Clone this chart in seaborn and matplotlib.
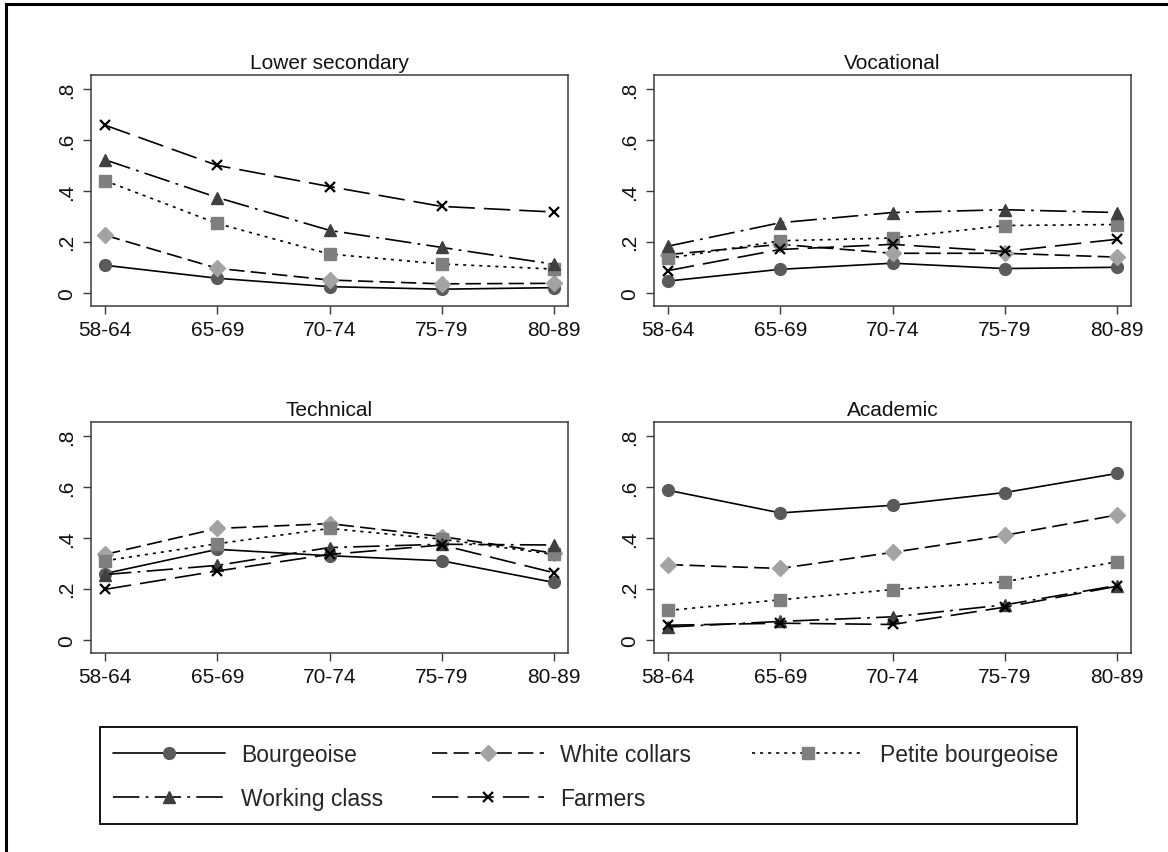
import numpy as np
import pandas as pd
import matplotlib
matplotlib.use("Agg")
import matplotlib.pyplot as plt
from matplotlib.lines import Line2D
from matplotlib.patches import Rectangle
import seaborn as sns

# ---------------- data ----------------
cohorts = ["58-64", "65-69", "70-74", "75-79", "80-89"]
panels = ["Lower secondary", "Vocational", "Technical", "Academic"]
classes = ["Bourgeoise", "White collars", "Petite bourgeoise", "Working class", "Farmers"]

lower_bourgeoise = [0.108, 0.057, 0.024, 0.014, 0.020]
lower_white = [0.226, 0.096, 0.050, 0.035, 0.037]
lower_petite = [0.440, 0.272, 0.152, 0.113, 0.093]
lower_working = [0.522, 0.374, 0.245, 0.178, 0.112]
lower_farmers = [0.658, 0.500, 0.417, 0.339, 0.317]

voc_bourgeoise = [0.046, 0.092, 0.116, 0.095, 0.100]
voc_white = [0.150, 0.190, 0.155, 0.155, 0.140]
voc_petite = [0.135, 0.204, 0.215, 0.264, 0.268]
voc_working = [0.183, 0.275, 0.315, 0.326, 0.315]
voc_farmers = [0.087, 0.170, 0.190, 0.162, 0.210]

tech_bourgeoise = [0.260, 0.355, 0.330, 0.310, 0.225]
tech_white = [0.335, 0.437, 0.456, 0.405, 0.340]
tech_petite = [0.310, 0.377, 0.437, 0.395, 0.335]
tech_working = [0.256, 0.292, 0.362, 0.375, 0.372]
tech_farmers = [0.198, 0.270, 0.335, 0.372, 0.263]

acad_bourgeoise = [0.587, 0.498, 0.528, 0.578, 0.653]
acad_white = [0.295, 0.280, 0.343, 0.410, 0.490]
acad_petite = [0.115, 0.157, 0.197, 0.228, 0.306]
acad_working = [0.050, 0.072, 0.090, 0.137, 0.213]
acad_farmers = [0.057, 0.065, 0.060, 0.128, 0.210]

y_ticks = [0, 0.2, 0.4, 0.6, 0.8]
y_ticklabels = ["0", ".2", ".4", ".6", ".8"]

series = {
    "Lower secondary": [lower_bourgeoise, lower_white, lower_petite, lower_working, lower_farmers],
    "Vocational": [voc_bourgeoise, voc_white, voc_petite, voc_working, voc_farmers],
    "Technical": [tech_bourgeoise, tech_white, tech_petite, tech_working, tech_farmers],
    "Academic": [acad_bourgeoise, acad_white, acad_petite, acad_working, acad_farmers],
}

rows = []
for p in panels:
    for c, vals in zip(classes, series[p]):
        for co, v in zip(cohorts, vals):
            rows.append({"panel": p, "class": c, "cohort": co, "share": v})
df = pd.DataFrame(rows)

# ---------------- style ----------------
sns.set_theme(style="white")
plt.rcParams["font.family"] = ["Liberation Sans", "DejaVu Sans"]
plt.rcParams["lines.scale_dashes"] = False

styles = {
    "Bourgeoise": dict(linestyle="-", marker="o", mfc="#5a5a5a", mec="#5a5a5a", ms=8.5, mew=1),
    "White collars": dict(linestyle=(0, (11, 4.5)), marker="D", mfc="#a3a3a3", mec="#a3a3a3", ms=8, mew=1),
    "Petite bourgeoise": dict(linestyle=(0, (2.2, 3.6)), marker="s", mfc="#7f7f7f", mec="#7f7f7f", ms=8, mew=1),
    "Working class": dict(linestyle=(0, (19, 4.5, 2, 4.5)), marker="^", mfc="#404040", mec="#404040", ms=9, mew=1),
    "Farmers": dict(linestyle=(0, (19, 6.5)), marker="x", mfc="black", mec="black", ms=7, mew=1.6),
}
LW = 1.2

W, H = 1168, 853
fig = plt.figure(figsize=(W / 100, H / 100), dpi=100)

def fx(px):
    return px / W

def fy(py):
    return 1 - py / H

ax_w = fx(568) - fx(91)
ax_h = fy(76) - fy(307)
positions = {
    "Lower secondary": (fx(91), fy(307)),
    "Vocational": (fx(654), fy(307)),
    "Technical": (fx(91), fy(654)),
    "Academic": (fx(654), fy(654)),
}

frame_color = "#3c3c3c"
for p in panels:
    l, b = positions[p]
    ax = fig.add_axes([l, b, ax_w, ax_h])
    sub = df[df["panel"] == p]
    for c in classes:
        d = sub[sub["class"] == c]
        sns.lineplot(data=d, x="cohort", y="share", ax=ax, color="black", lw=LW,
                     sort=False, errorbar=None, **styles[c])
    ax.set_xlim(-0.125, 4.125)
    ax.set_ylim(-0.052, 0.855)
    ax.set_yticks(y_ticks)
    ax.set_yticklabels(y_ticklabels, rotation=90, va="center")
    ax.set_xticks(range(len(cohorts)))
    ax.set_xticklabels(cohorts)
    ax.set_xlabel("")
    ax.set_ylabel("")
    ax.set_title(p, fontsize=15, pad=5, color="#111111")
    ax.tick_params(axis="both", which="major", length=6, width=1, color=frame_color,
                   labelsize=15, labelcolor="#111111", direction="out", bottom=True, left=True)
    ax.tick_params(axis="x", pad=4)
    ax.tick_params(axis="y", pad=5)
    for s in ax.spines.values():
        s.set_color(frame_color)
        s.set_linewidth(1.1)
    ax.grid(False)
    if ax.get_legend() is not None:
        ax.get_legend().remove()

# legend: box + one entry per slot (Stata-like fixed grid)
fig.add_artist(Rectangle((fx(100), fy(825)), fx(1077) - fx(100), fy(728) - fy(825),
                         transform=fig.transFigure, fill=False, ec="black", lw=1.3))
slots = {
    "Bourgeoise": (113, 756),
    "Working class": (113, 800),
    "White collars": (432, 756),
    "Farmers": (432, 800),
    "Petite bourgeoise": (752, 756),
}
for c in classes:
    x0, y0 = slots[c]
    h = Line2D([], [], color="black", lw=LW, **styles[c])
    fig.legend([h], [c], loc="center left", bbox_to_anchor=(fx(x0), fy(y0)),
               frameon=False, fontsize=16.5, borderpad=0, borderaxespad=0,
               handlelength=4.9, handletextpad=0.7)

# outer border (only left/top visible in reference)
fig.add_artist(Rectangle((fx(6), -0.1), 1.2, fy(5) + 0.1, transform=fig.transFigure,
                         fill=False, ec="black", lw=2.2, clip_on=False))

fig.savefig("out.png", dpi=100, facecolor="white")
